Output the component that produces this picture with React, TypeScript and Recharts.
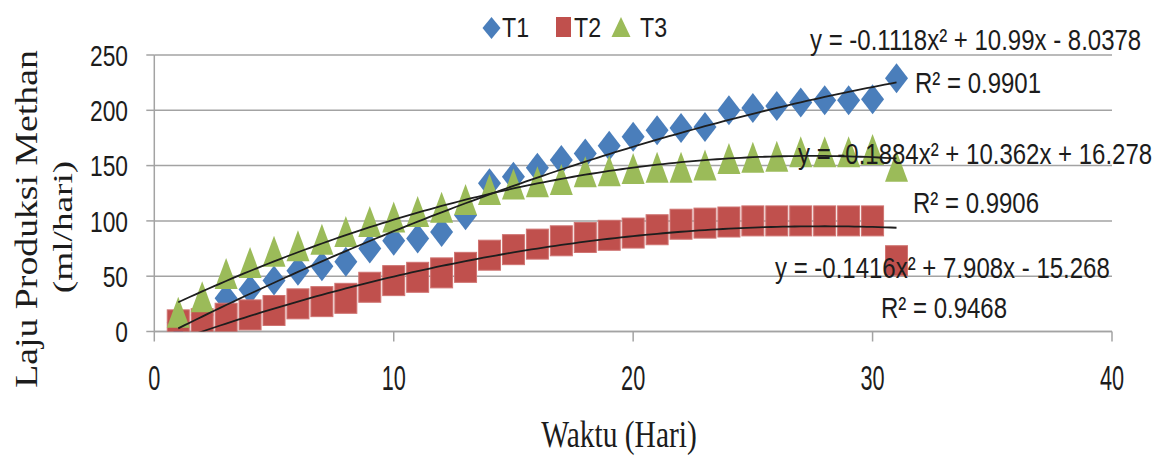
import React from "react"
import { ComposedChart, Scatter, XAxis, YAxis, CartesianGrid } from "recharts"

// Hari ke-1 .. ke-31
const days = [
  1, 2, 3, 4, 5, 6, 7, 8, 9, 10, 11, 12, 13, 14, 15, 16, 17, 18, 19, 20, 21, 22, 23, 24, 25, 26, 27, 28, 29, 30, 31,
]

// Laju produksi methan (ml/hari)
const t1 = [
  8, 15, 30, 38, 46, 55, 59, 63, 75, 82, 84, 90, 105, 134, 140, 148, 155, 161, 168, 176, 182, 184, 185, 200, 202,
  204, 207, 209, 209, 210, 229,
]
const t2 = [
  6, 7, 12, 15, 19, 25, 27, 30, 40, 46, 49, 53, 58, 69, 74, 79, 82, 85, 87, 89, 92, 97, 98, 99, 100, 100, 100, 100,
  100, 100, 64,
]
const t3 = [
  17, 31, 52, 62, 72, 77, 83, 90, 99, 103, 108, 112, 119, 128, 133, 135, 137, 144, 145, 147, 148, 148, 150, 156, 157,
  158, 162, 162, 162, 164, 149,
]

// koefisien trendline polinomial (a, b, c) seperti tertulis di grafik: y = a x² + b x + c
const t1Fit = [-0.1118, 10.99, -8.0378]
const t2Fit = [-0.1416, 7.908, -15.268]
const t3Fit = [-0.1884, 10.362, 16.278]

const xTicks = [0, 10, 20, 30, 40]
const yTicks = [0, 50, 100, 150, 200, 250]

const BLUE = "#4a7ebb"
const RED = "#c0504d"
const GREEN = "#9bbb59"
const GRID = "#a3a3a3"
const INK = "#1c1c1c"
const SANS = "'Liberation Sans', Arial, sans-serif"
const SERIF = "'Liberation Serif', 'Times New Roman', serif"

const toPoints = (ys: number[]) => days.map((d, i) => ({ x: d, y: ys[i] }))

// titik-titik kurva trendline di rentang data
const trend = (fit: number[]) => {
  const pts: { x: number; y: number }[] = []
  for (let x = days[0]; x <= days[days.length - 1] + 1e-9; x += 0.25) {
    pts.push({ x, y: fit[0] * x * x + fit[1] * x + fit[2] })
  }
  return pts
}

const Diamond = (p: any) => (
  <path d={`M${p.cx},${p.cy - 15} L${p.cx + 11.5},${p.cy} L${p.cx},${p.cy + 15} L${p.cx - 11.5},${p.cy} Z`} fill={BLUE} />
)
const Square = (p: any) => (
  <rect x={p.cx - 11} y={p.cy - 15} width={22} height={30} fill={RED} stroke="#cf7472" strokeWidth={1} />
)
const Triangle = (p: any) => (
  <path d={`M${p.cx},${p.cy - 16} L${p.cx + 11.5},${p.cy + 15} L${p.cx - 11.5},${p.cy + 15} Z`} fill={GREEN} />
)
const NoDot = () => <g />

const YTick = ({ x, y, payload }: any) => (
  <text transform={`translate(${x},${y + 10.8}) scale(0.76,1)`} textAnchor="end" fontSize={30} fontFamily={SANS} fill={INK}>
    {payload.value}
  </text>
)
const XTick = ({ x, y, payload }: any) => (
  <text transform={`translate(${x},${y + 48.5}) scale(0.62,1)`} textAnchor="middle" fontSize={35} fontFamily={SANS} fill={INK}>
    {payload.value}
  </text>
)

// teks yang dipersempit (huruf di gambar asli tinggi & sempit)
const Narrow = ({ x, y, sx = 0.8, size = 30, rotate = 0, anchor = "start", family = SANS, children }: any) => (
  <text
    transform={`translate(${x},${y}) rotate(${rotate}) scale(${sx},1)`}
    textAnchor={anchor}
    fontSize={size}
    fontFamily={family}
    fill={INK}
  >
    {children}
  </text>
)

export default function App() {
  const line = { stroke: "#1e1e1e", strokeWidth: 1.8 }
  return (
    <div style={{ position: "absolute", left: 0, top: 0, width: 1162, height: 457, background: "#fff" }}>
      <ComposedChart width={1162} height={457} margin={{ top: 55, right: 50, bottom: 0, left: 0 }}>
        <CartesianGrid vertical={false} stroke={GRID} strokeWidth={1.5} />
        <XAxis
          type="number"
          dataKey="x"
          domain={[0, 40]}
          ticks={xTicks}
          height={125.5}
          tickSize={10}
          tickMargin={0}
          stroke={GRID}
          strokeWidth={1.5}
          tick={<XTick />}
        />
        <YAxis
          type="number"
          dataKey="y"
          domain={[0, 250]}
          ticks={yTicks}
          allowDataOverflow
          width={154.3}
          tickSize={8}
          tickMargin={18.3}
          stroke={GRID}
          strokeWidth={1.5}
          tick={<YTick />}
        />
        <Scatter name="T1" data={toPoints(t1)} shape={Diamond} isAnimationActive={false} />
        <Scatter name="T2" data={toPoints(t2)} shape={Square} isAnimationActive={false} />
        <Scatter name="T3" data={toPoints(t3)} shape={Triangle} isAnimationActive={false} />
        <Scatter data={trend(t1Fit)} line={line} lineType="joint" shape={NoDot} isAnimationActive={false} />
        <Scatter data={trend(t2Fit)} line={line} lineType="joint" shape={NoDot} isAnimationActive={false} />
        <Scatter data={trend(t3Fit)} line={line} lineType="joint" shape={NoDot} isAnimationActive={false} />
      </ComposedChart>

      <svg width={1162} height={457} style={{ position: "absolute", left: 0, top: 0, pointerEvents: "none" }}>
        {/* legenda */}
        <path d="M491.5,17 L500.5,28 L491.5,39 L482.5,28 Z" fill={BLUE} />
        <Narrow x={502} y={37} sx={0.86} size={27}>T1</Narrow>
        <rect x={556} y={17} width={15} height={20} fill={RED} />
        <Narrow x={574} y={37} sx={0.86} size={27}>T2</Narrow>
        <path d="M621,17 L630.5,37 L611.5,37 Z" fill={GREEN} />
        <Narrow x={640} y={37} sx={0.86} size={27}>T3</Narrow>

        {/* persamaan trendline */}
        <Narrow x={810} y={50}>y = -0.1118x² + 10.99x - 8.0378</Narrow>
        <Narrow x={915} y={93}>R² = 0.9901</Narrow>
        <Narrow x={798} y={164}>y = -0.1884x² + 10.362x + 16.278</Narrow>
        <Narrow x={913} y={213}>R² = 0.9906</Narrow>
        <Narrow x={775} y={278}>y = -0.1416x² + 7.908x - 15.268</Narrow>
        <Narrow x={881} y={318}>R² = 0.9468</Narrow>

        {/* judul sumbu */}
        <Narrow x={37} y={219} rotate={-90} sx={1.18} size={32} anchor="middle" family={SERIF}>
          Laju Produksi Methan
        </Narrow>
        <Narrow x={72} y={227} rotate={-90} sx={1.38} size={27} anchor="middle" family={SERIF}>
          (ml/hari)
        </Narrow>
        <Narrow x={619} y={447} sx={0.776} size={38} anchor="middle" family={SERIF}>
          Waktu (Hari)
        </Narrow>
      </svg>
    </div>
  )
}
